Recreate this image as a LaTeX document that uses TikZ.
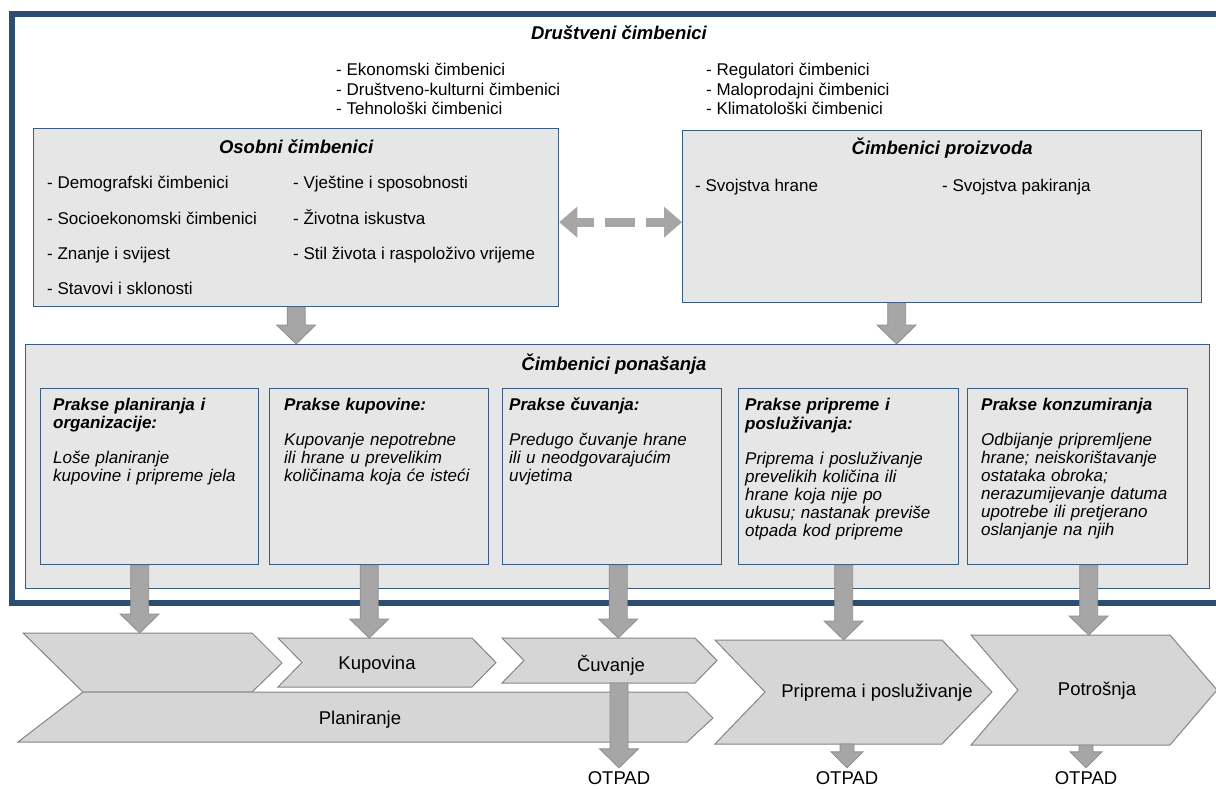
\documentclass[tikz,border=0pt]{standalone}
\usepackage{fontspec}
\setmainfont{Liberation Sans}
\usetikzlibrary{arrows.meta,calc,positioning}

\definecolor{frameblue}{HTML}{2B4D70}
\definecolor{boxblue}{HTML}{3A5C82}
\definecolor{boxgray}{HTML}{E6E6E6}
\definecolor{chevgray}{HTML}{D6D6D6}
\definecolor{chevedge}{HTML}{858585}
\definecolor{arrowgray}{HTML}{A6A6A6}
\definecolor{arrowedge}{HTML}{8E8E8E}

\begin{document}
\begin{tikzpicture}[x=1pt, y=-1pt,
	panel/.style={draw=boxblue, line width=1.3pt, fill=boxgray, inner sep=0pt, anchor=north west},
	heading/.style={font=\fontsize{18.5}{22}\selectfont\bfseries\itshape, anchor=base, inner sep=0pt},
	item/.style={font=\fontsize{17}{19.5}\selectfont, anchor=base west, inner sep=0pt},
	boxtext/.style={font=\fontsize{17}{18}\selectfont\itshape, anchor=north west, inner sep=0pt, text width=215pt, align=left},
	stage/.style={font=\fontsize{18.5}{22}\selectfont, anchor=base, inner sep=0pt},
	chevron/.style={fill=chevgray, draw=chevedge, line width=1pt, line join=miter},
	blockdown/.style n args={3}{to path={let \p1=(\tikztostart), \p2=(\tikztotarget) in
		(\x1-#1,\y1) -- (\x1-#1,\y2+#3) -- (\x1-#2,\y2+#3) -- (\x1,\y2) -- (\x1+#2,\y2+#3) -- (\x1+#1,\y2+#3) -- (\x1+#1,\y1) -- cycle}},
	fatarrow/.style={fill=arrowgray, draw=arrowedge, line width=0.8pt, blockdown={9pt}{19.5pt}{19pt}},
	thinarrow/.style={fill=arrowgray, draw=arrowedge, line width=0.8pt, blockdown={7pt}{16pt}{16pt}},
	dasharrow/.style={draw=arrowgray, line width=9pt, dash pattern=on 30pt off 11pt, dash phase=13pt,
		{Triangle[width=31pt,length=18pt,line width=0pt]}-{Triangle[width=31pt,length=18pt,line width=0pt]}}]

	\useasboundingbox (0,0) rectangle (1216,789);
	\fill[white] (0,0) rectangle (1216,789);

	% outer frame, open on the right
	\draw[frameblue, line width=5.5pt] (1224,14) -- (12,14) -- (12,603) -- (1224,603);
	\node[heading] (drustveni) at (619,40) {Društveni čimbenici};

	\foreach \t [count=\i] in {Ekonomski čimbenici, Društveno-kulturni čimbenici, Tehnološki čimbenici}
		\node[item] (dl\i) at (336,{56.5+19.5*\i}) {- \t};
	\foreach \t [count=\i] in {Regulatori čimbenici, Maloprodajni čimbenici, Klimatološki čimbenici}
		\node[item] (dr\i) at (706,{56.5+19.5*\i}) {- \t};

	% personal and product factors
	\node[panel, minimum width=525pt, minimum height=178pt] (osobni) at (33,128) {};
	\node[heading] (osobni-t) at ([yshift=-26pt]osobni.north) {Osobni čimbenici};
	\foreach \t [count=\i] in {Demografski čimbenici, Socioekonomski čimbenici, Znanje i svijest, Stavovi i sklonosti}
		\node[item] (ol\i) at (47,{154+35*\i}) {- \t};
	\foreach \t [count=\i] in {Vještine i sposobnosti, Životna iskustva, Stil života i raspoloživo vrijeme}
		\node[item] (or\i) at (293,{154+35*\i}) {- \t};

	\node[panel, minimum width=519pt, minimum height=172pt] (proiz) at (682,130) {};
	\node[heading] (proiz-t) at ([yshift=-25pt]proiz.north) {Čimbenici proizvoda};
	\node[item] (hrana) at (695,191) {- Svojstva hrane};
	\node[item] (pakiranje) at (942,191) {- Svojstva pakiranja};

	\draw[dasharrow] ([yshift=-4.5pt]osobni.east) -- ([yshift=-5.5pt]proiz.west);

	% behaviour
	\node[panel, minimum width=1184pt, minimum height=244pt] (beh) at (25,344) {};
	\node[heading] (beh-t) at (614,370) {Čimbenici ponašanja};

	\draw[fatarrow] (osobni.south) to (osobni.south |- beh.north);
	\draw[fatarrow] (proiz.south) ++(-45.5,0) coordinate (t) to (t |- beh.north);

	\foreach \n/\xa/\w in {1/40/218, 2/269/219, 3/502/219, 4/738/220, 5/967/220}
		\node[panel, minimum width=\w pt, minimum height=176pt] (b\n) at (\xa,388) {};

	\node[boxtext] (t1) at ([xshift=13pt,yshift=-9.4pt]b1.north west)
		{{\bfseries\strut Prakse planiranja i\\ organizacije:}\\[17pt] Loše planiranje\\ kupovine i pripreme jela};
	\node[boxtext] (t2) at ([xshift=15pt,yshift=-9.4pt]b2.north west)
		{{\bfseries\strut Prakse kupovine:}\\[17pt] Kupovanje nepotrebne\\ ili hrane u prevelikim\\ količinama koja će isteći};
	\node[boxtext] (t3) at ([xshift=7pt,yshift=-9.4pt]b3.north west)
		{{\bfseries\strut Prakse čuvanja:}\\[17pt] Predugo čuvanje hrane\\ ili u neodgovarajućim\\ uvjetima};
	\node[boxtext] (t4) at ([xshift=7pt,yshift=-9.4pt]b4.north west)
		{{\bfseries\strut Prakse pripreme i\\ posluživanja:}\\[17pt] Priprema i posluživanje\\ prevelikih količina ili\\ hrane koja nije po\\ ukusu; nastanak previše\\ otpada kod pripreme};
	\node[boxtext] (t5) at ([xshift=14pt,yshift=-9.4pt]b5.north west)
		{{\bfseries\strut Prakse konzumiranja}\\[17pt] Odbijanje pripremljene\\ hrane; neiskorištavanje\\ ostataka obroka;\\ nerazumijevanje datuma\\ upotrebe ili pretjerano\\ oslanjanje na njih};

	% stages
	\draw[chevron] (23,633) coordinate (plan) -- (252,633) -- (282,663) -- (252,692) -- (83,692) -- cycle;
	\draw[chevron] (83,692) -- (687,692) -- (713,718) -- (687,742) -- (18,742) -- cycle;
	\foreach \n/\xa/\xb/\ya/\yb/\d in {kup/278/472/638/687/24, cuv/502/695/638/683/22, prip/715/942/640/744/50, potr/971/1170/635/745/47}
		\draw[chevron] (\xa,\ya) coordinate (\n) -- (\xb,\ya) -- ({\xb+\d},{(\ya+\yb)/2}) -- (\xb,\yb)
			-- (\xa,\yb) coordinate (\n-b) -- ({\xa+\d},{(\ya+\yb)/2}) -- cycle;

	\node[stage] (plan-l) at (360,724) {Planiranje};
	\node[stage] (kup-l) at (377,669) {Kupovina};
	\node[stage] (cuv-l) at (611,671) {Čuvanje};
	\node[stage] (prip-l) at (877,697) {Priprema i posluživanje};
	\node[stage] (potr-l) at (1097,695) {Potrošnja};

	\foreach \b/\dx/\c in {b1/-10/plan, b2/-10/kup, b3/6/cuv, b4/-5/prip, b5/11/potr}
		\draw[fatarrow] (\b.south) ++(\dx,0) coordinate (t) to (t |- \c);

	% waste
	\node[stage] (o1) at (619,784) {OTPAD};
	\node[stage] (o2) at (847,784) {OTPAD};
	\node[stage] (o3) at (1086,784) {OTPAD};
	\draw[fatarrow] (o1 |- cuv-b) to ([yshift=3pt]o1.north);
	\draw[thinarrow] (o2 |- prip-b) to ([yshift=3pt]o2.north);
	\draw[thinarrow] (o3 |- potr-b) to ([yshift=3pt]o3.north);
\end{tikzpicture}
\end{document}
